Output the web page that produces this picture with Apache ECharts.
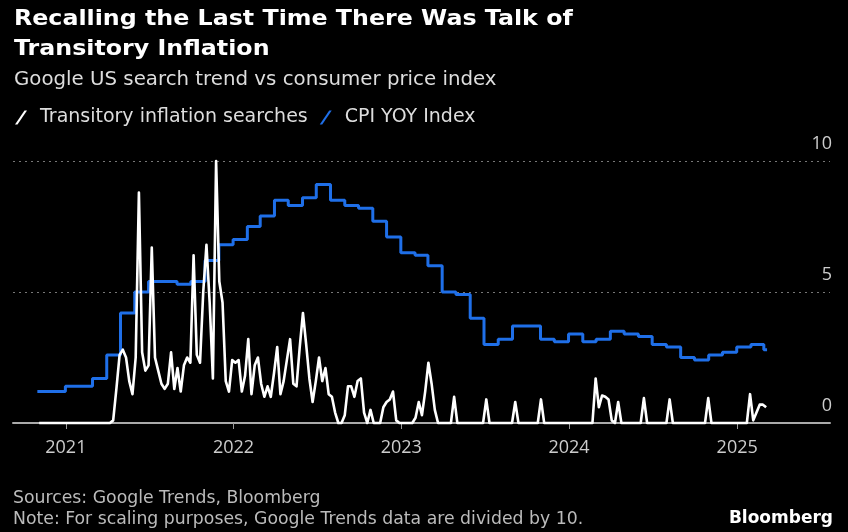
<!DOCTYPE html>
<html>
<head>
<meta charset="utf-8">
<script src="https://cdn.jsdelivr.net/npm/echarts@6/dist/echarts.min.js"></script>
<style>
  html, body { margin: 0; padding: 0; background: #000; }
  #chart { width: 848px; height: 532px; }
</style>
</head>
<body>
<div id="chart"></div>
<script>
// ---------- DATA ----------
// Google Trends searches for "transitory inflation" (weekly, divided by 10), first week starting 2020-11-04
const searchStart = '2020-11-04';
const searchValues = [
  0,0,0,0,0,0,0,0,0,0,
  0,0,0,0,0,0,0,0,0,0,
  0,0,0,0.1,1.3,2.6,2.8,2.5,1.6,1.1,
  2.5,8.8,2.7,2.0,2.2,6.7,2.5,2.0,1.5,1.3,
  1.5,2.7,1.3,2.1,1.2,2.2,2.5,2.3,6.4,2.6,
  2.3,5.0,6.8,4.6,1.7,10.0,5.4,4.6,1.6,1.2,
  2.4,2.3,2.4,1.2,1.8,3.2,1.1,2.2,2.5,1.5,
  1.0,1.4,1.0,1.9,2.9,1.1,1.6,2.4,3.2,1.5,
  1.4,2.9,4.2,3.0,1.7,0.8,1.6,2.5,1.6,2.1,
  1.1,1.0,0.4,0,0,0.3,1.4,1.4,1.0,1.6,
  1.7,0.4,0,0.5,0,0,0,0.6,0.8,0.9,
  1.2,0.1,0,0,0,0,0,0.2,0.8,0.3,
  1.2,2.3,1.5,0.5,0,0,0,0,0,1.0,
  0,0,0,0,0,0,0,0,0,0.9,
  0,0,0,0,0,0,0,0,0.8,0,
  0,0,0,0,0,0,0.9,0,0,0,
  0,0,0,0,0,0,0,0,0,0,
  0,0,0,1.7,0.6,1.05,1.0,0.9,0.1,0,
  0.8,0,0,0,0,0,0,0,0.95,0,
  0,0,0,0,0,0,0.9,0,0,0,
  0,0,0,0,0,0,0,0,0.95,0,
  0,0,0,0,0,0,0,0,0,0,
  0,1.1,0.1,0.4,0.7,0.7,0.6
];

// CPI YoY (%), monthly, plotted at month end
const cpiMonths = [
  '2020-10','2020-11','2020-12',
  '2021-01','2021-02','2021-03','2021-04','2021-05','2021-06','2021-07','2021-08','2021-09','2021-10','2021-11','2021-12',
  '2022-01','2022-02','2022-03','2022-04','2022-05','2022-06','2022-07','2022-08','2022-09','2022-10','2022-11','2022-12',
  '2023-01','2023-02','2023-03','2023-04','2023-05','2023-06','2023-07','2023-08','2023-09','2023-10','2023-11','2023-12',
  '2024-01','2024-02','2024-03','2024-04','2024-05','2024-06','2024-07','2024-08','2024-09','2024-10','2024-11','2024-12',
  '2025-01','2025-02'
];
const cpiValues = [
  1.2,1.2,1.4,
  1.4,1.7,2.6,4.2,5.0,5.4,5.4,5.3,5.4,6.2,6.8,7.0,
  7.5,7.9,8.5,8.3,8.6,9.1,8.5,8.3,8.2,7.7,7.1,6.5,
  6.4,6.0,5.0,4.9,4.0,3.0,3.2,3.7,3.7,3.2,3.1,3.4,
  3.1,3.2,3.5,3.4,3.3,3.0,2.9,2.5,2.4,2.6,2.7,2.9,
  3.0,2.8
];
const chartEndDate = '2025-03-07';

const xRange = ['2020-09-08', '2025-07-22'];
const yearTicks = ['2021-01-01','2022-01-01','2023-01-01','2024-01-01','2025-01-01'];
const yTicks = [0, 5, 10];

const titleText = 'Recalling the Last Time There Was Talk of\nTransitory Inflation';
const subtitleText = 'Google US search trend vs consumer price index';
const sourceText = 'Sources: Google Trends, Bloomberg\nNote: For scaling purposes, Google Trends data are divided by 10.';
const seriesNames = ['Transitory inflation searches', 'CPI YOY Index'];

// ---------- BUILD ----------
const DAY = 86400000;
function ts(s){ return Date.parse(s + 'T00:00:00Z'); }
const s0 = ts(searchStart);
const searchData = searchValues.map((v, i) => [s0 + i * 7 * DAY, v]);
const cpiData = cpiMonths.map((m, i) => {
  const [y, mo] = m.split('-').map(Number);
  return [Date.UTC(y, mo, 0), cpiValues[i]];
});
cpiData.push([ts(chartEndDate), cpiValues[cpiValues.length - 1]]);
const yearTs = yearTicks.map(ts);

const chart = echarts.init(document.getElementById('chart'), null, { renderer: 'canvas' });
const slash = 'path://M0,14 L9.5,0 L12,0 L2.5,14 Z';

chart.setOption({
  backgroundColor: '#000',
  animation: false,
  graphic: [
    { type: 'text', x: 14, y: 5, scaleX: 1.13, silent: true,
      style: { text: titleText, fill: '#fff', font: 'bold 21px "DejaVu Sans"',
               lineHeight: 30, verticalAlign: 'top', align: 'left' } }
  ],
  title: [
    { text: subtitleText, left: 9, top: 65,
      textStyle: { color: '#ddd', fontSize: 19.8, fontWeight: 'normal', fontFamily: 'DejaVu Sans', lineHeight: 20 } },
    { text: sourceText, left: 8, top: 483,
      textStyle: { color: '#bbb', fontSize: 17.3, fontWeight: 'normal', fontFamily: 'DejaVu Sans', lineHeight: 21 } },
    { text: 'Bloomberg', right: 10, top: 505,
      textStyle: { color: '#fff', fontSize: 17, fontWeight: 'bold', fontFamily: 'DejaVu Sans', lineHeight: 18 } }
  ],
  legend: {
    left: 15, top: 108, padding: 0,
    itemWidth: 12, itemHeight: 14, itemGap: 12,
    icon: slash,
    textStyle: { color: '#ddd', fontSize: 19, fontFamily: 'DejaVu Sans', padding: [0,0,0,8] },
    data: seriesNames
  },
  grid: { left: 13, right: 18, top: 161, bottom: 109, containLabel: false },
  xAxis: {
    type: 'value',
    min: ts(xRange[0]),
    max: ts(xRange[1]),
    axisLine: { show: true, onZero: false, lineStyle: { color: '#aaa', width: 2 } },
    axisTick: { show: true, length: 6, lineStyle: { color: '#999', width: 1 }, customValues: yearTs },
    axisLabel: {
      customValues: yearTs,
      color: '#ccc', fontSize: 18, fontFamily: 'Open Sans', margin: 16,
      formatter: v => String(new Date(v).getUTCFullYear())
    },
    splitLine: { show: false }
  },
  yAxis: {
    type: 'value',
    position: 'right',
    min: yTicks[0], max: yTicks[yTicks.length - 1], interval: 5,
    axisLine: { show: false },
    axisTick: { show: false },
    axisLabel: {
      inside: true, margin: -2, color: '#ccc', fontSize: 18, fontFamily: 'Open Sans',
      verticalAlign: 'bottom', padding: [0, 0, 8, 0]
    },
    splitLine: { show: true, lineStyle: { color: '#777', width: 1.2, type: [2, 4] } }
  },
  series: [
    {
      name: seriesNames[0], type: 'line', data: searchData,
      showSymbol: false, symbol: 'none', z: 4, clip: false,
      color: '#fff',
      lineStyle: { color: '#fff', width: 2.6, join: 'round' }
    },
    {
      name: seriesNames[1], type: 'line', data: cpiData, step: 'end',
      showSymbol: false, symbol: 'none', z: 3,
      color: '#1f6fe8',
      lineStyle: { color: '#1f6fe8', width: 3 }
    }
  ]
});
</script>
</body>
</html>
